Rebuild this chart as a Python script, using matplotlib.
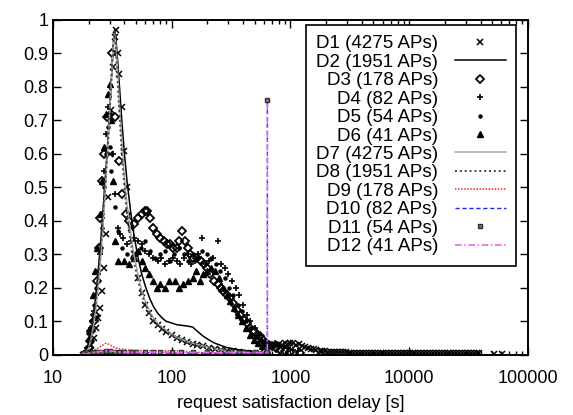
import matplotlib
matplotlib.use('Agg')
import matplotlib.pyplot as plt

plt.rcParams['font.family'] = ['Liberation Sans', 'DejaVu Sans']

# main peak curves (D1, D2, D7, D8)
x_main = [18, 19, 20, 21, 22, 23, 24, 25, 26, 27, 28, 29, 30, 31, 32, 33, 34, 35, 36, 38,
          40, 42, 45, 48, 52, 56, 60, 65, 70, 76, 83, 90, 100, 110, 122, 135, 150, 165,
          185, 205, 230, 260, 290, 330, 370, 420, 480, 550, 640]
d1 = [0.0, 0.0, 0.01, 0.03, 0.05, 0.08, 0.11, 0.14, 0.19, 0.26, 0.36, 0.47, 0.6, 0.73, 0.86,
      0.95, 0.97, 0.9, 0.84, 0.74, 0.61, 0.5, 0.38, 0.3, 0.23, 0.185, 0.15, 0.125, 0.1, 0.088,
      0.078, 0.068, 0.058, 0.05, 0.043, 0.038, 0.033, 0.029, 0.025, 0.021, 0.018, 0.015,
      0.012, 0.01, 0.008, 0.006, 0.005, 0.004, 0.003]
d2 = [0.0, 0.01, 0.03, 0.07, 0.12, 0.18, 0.25, 0.32, 0.4, 0.48, 0.56, 0.64, 0.73, 0.82, 0.91,
      0.97, 0.94, 0.88, 0.82, 0.7, 0.6, 0.52, 0.43, 0.36, 0.29, 0.24, 0.205, 0.17, 0.145,
      0.125, 0.11, 0.1, 0.095, 0.09, 0.088, 0.086, 0.083, 0.07, 0.055, 0.045, 0.035, 0.028,
      0.022, 0.018, 0.015, 0.013, 0.01, 0.006, 0.003]
d7 = [0.0, 0.01, 0.02, 0.05, 0.09, 0.14, 0.2, 0.27, 0.35, 0.44, 0.53, 0.62, 0.72, 0.82, 0.91,
      0.96, 0.92, 0.85, 0.77, 0.64, 0.53, 0.45, 0.37, 0.3, 0.24, 0.19, 0.16, 0.13, 0.11,
      0.095, 0.082, 0.072, 0.062, 0.053, 0.046, 0.04, 0.035, 0.03, 0.026, 0.022, 0.018,
      0.015, 0.012, 0.01, 0.008, 0.006, 0.004, 0.003, 0.002]
d8 = [0.0, 0.01, 0.02, 0.06, 0.11, 0.16, 0.23, 0.3, 0.38, 0.47, 0.55, 0.62, 0.72, 0.82, 0.92,
      0.97, 0.9, 0.82, 0.74, 0.6, 0.5, 0.42, 0.34, 0.28, 0.22, 0.18, 0.15, 0.125, 0.105, 0.09,
      0.08, 0.07, 0.06, 0.05, 0.043, 0.038, 0.033, 0.029, 0.025, 0.021, 0.018, 0.015, 0.012,
      0.01, 0.008, 0.006, 0.004, 0.003, 0.002]

# D3 diamonds
x_d3 = [20, 20.5, 21, 22, 22.6, 23.5, 24.5, 25, 26, 27, 28.4, 31.4, 33.2, 36, 38, 41, 44, 48,
        52, 56, 60, 62, 66, 70, 75, 80, 86, 91, 96, 103, 110, 116, 122, 130, 136, 143, 152,
        162, 175, 188, 198, 212, 228, 245, 258, 270, 290, 310, 330, 355, 380, 405, 430, 460,
        490, 520, 555, 590, 620, 660, 700, 760, 820, 900, 1000, 1200]
d3 = [0.02, 0.04, 0.07, 0.1, 0.12, 0.22, 0.32, 0.41, 0.52, 0.6, 0.71, 0.9, 0.71, 0.58, 0.48,
      0.42, 0.4, 0.39, 0.41, 0.42, 0.43, 0.43, 0.41, 0.38, 0.36, 0.35, 0.34, 0.33, 0.33, 0.32,
      0.32, 0.34, 0.37, 0.34, 0.32, 0.3, 0.29, 0.29, 0.28, 0.27, 0.26, 0.24, 0.22, 0.21, 0.2,
      0.19, 0.18, 0.17, 0.155, 0.135, 0.12, 0.105, 0.095, 0.08, 0.07, 0.06, 0.055, 0.045,
      0.035, 0.03, 0.025, 0.02, 0.015, 0.01, 0.008, 0.005]

# D4 plus
x_d4 = [19, 20, 21, 22, 23, 24, 25, 26, 27, 28, 29, 30, 31, 32, 33, 35, 37, 39, 42, 45, 48,
        52, 56, 60, 65, 70, 76, 82, 88, 95, 102, 110, 118, 127, 136, 146, 157, 168, 180,
        193, 207, 222, 245, 260, 280, 300, 320, 345, 370, 400, 430, 460, 500, 540, 580, 620,
        680, 740, 800, 880, 960, 1050, 1150]
d4 = [0.01, 0.04, 0.08, 0.13, 0.18, 0.24, 0.3, 0.42, 0.55, 0.66, 0.74, 0.8, 0.72, 0.6, 0.48,
      0.38, 0.36, 0.35, 0.33, 0.34, 0.35, 0.34, 0.33, 0.31, 0.3, 0.29, 0.28, 0.29, 0.27, 0.28,
      0.29, 0.28, 0.27, 0.29, 0.3, 0.27, 0.28, 0.3, 0.35, 0.27, 0.28, 0.29, 0.34, 0.27, 0.26,
      0.24, 0.22, 0.2, 0.18, 0.15, 0.12, 0.1, 0.08, 0.06, 0.045, 0.035, 0.03, 0.035, 0.03,
      0.025, 0.02, 0.015, 0.012]

# D5 dots
x_d5 = [19, 19.8, 21, 22, 23, 24, 25, 26, 27, 28, 29, 30, 31, 33, 35, 38, 42, 46, 50, 55, 60,
        66, 72, 80, 88, 96, 105, 115, 126, 138, 150, 165, 180, 198, 215, 235, 255, 280, 305,
        330, 360, 390, 420, 460, 500, 550, 600, 660, 720]
d5 = [0.02, 0.065, 0.1, 0.15, 0.2, 0.25, 0.31, 0.38, 0.5, 0.6, 0.68, 0.62, 0.55, 0.44, 0.37,
      0.32, 0.3, 0.29, 0.3, 0.32, 0.34, 0.31, 0.29, 0.3, 0.31, 0.28, 0.3, 0.32, 0.3, 0.28, 0.3,
      0.29, 0.31, 0.3, 0.29, 0.27, 0.25, 0.23, 0.2, 0.18, 0.15, 0.13, 0.1, 0.08, 0.06, 0.045,
      0.035, 0.03, 0.025]

# D6 triangles
x_d6 = [19, 20, 20.5, 21.7, 22.5, 23.5, 25, 26, 27, 28, 29, 30, 31, 32, 33, 35.5, 40, 44, 48,
        52, 56, 60, 65, 70, 75, 80, 87, 95, 106, 115, 125, 137, 150, 160, 173, 185, 200, 215,
        230, 250, 270, 290, 310, 335, 360, 390, 420, 455, 490, 530, 580, 640]
d6 = [0.01, 0.05, 0.08, 0.18, 0.25, 0.32, 0.42, 0.52, 0.62, 0.72, 0.78, 0.81, 0.7, 0.52, 0.34,
      0.28, 0.28, 0.27, 0.29, 0.31, 0.28, 0.26, 0.24, 0.22, 0.2, 0.21, 0.2, 0.22, 0.22, 0.2,
      0.21, 0.22, 0.23, 0.25, 0.22, 0.24, 0.25, 0.26, 0.25, 0.23, 0.2, 0.18, 0.16, 0.14, 0.12,
      0.1, 0.08, 0.06, 0.045, 0.035, 0.025, 0.015]

# long tail (D1 markers beyond 640 s)
x_tail = [680, 720, 760, 800, 850, 900, 950, 1000, 1060, 1120, 1180, 1250, 1320, 1400, 1480,
          1570, 1660, 1760, 1860, 1970, 2080, 2200, 2330, 2470, 2610, 2760, 2920, 3090, 3270,
          3460, 3660, 3870, 4100, 4340, 4590, 4860, 5140, 5440, 5760, 6090, 6450, 6820, 7220,
          7640, 8080, 8550, 9050, 9580, 10100, 10700, 11300, 12000, 12700, 13400, 14200,
          15000, 15900, 16800, 17800, 18800, 19900, 21100, 22300, 23600, 25000, 26400, 27900,
          29600, 31300, 33100, 35000, 37100, 39200, 52000, 61000]
tail = [0.025, 0.03, 0.028, 0.032, 0.03, 0.035, 0.033, 0.036, 0.034, 0.03, 0.032, 0.027,
        0.024, 0.02, 0.018, 0.016, 0.013, 0.012, 0.011, 0.01, 0.009, 0.008, 0.008, 0.007,
        0.007, 0.007, 0.007, 0.006, 0.006, 0.006, 0.006, 0.006, 0.006, 0.006, 0.006, 0.006,
        0.006, 0.006, 0.006, 0.006, 0.006, 0.006, 0.006, 0.006, 0.006, 0.006, 0.006, 0.006,
        0.006, 0.006, 0.006, 0.006, 0.006, 0.006, 0.006, 0.006, 0.006, 0.006, 0.006, 0.006,
        0.006, 0.006, 0.006, 0.006, 0.006, 0.006, 0.006, 0.006, 0.006, 0.006, 0.006, 0.006,
        0.006, 0.003, 0.003]

# near-zero series (D9 - D12), spike at 640 s
x_low = [18, 20, 22, 24, 26, 28, 30, 33, 36, 40, 45, 50, 60, 70, 80, 100, 120, 150, 200, 300,
         400, 500, 640]
d9 = [0.0, 0.005, 0.012, 0.02, 0.028, 0.035, 0.03, 0.022, 0.018, 0.016, 0.014, 0.013, 0.013,
      0.012, 0.012, 0.012, 0.011, 0.008, 0.006, 0.005, 0.004, 0.003, 0.003]
d10 = [0.0, 0.004, 0.006, 0.008, 0.01, 0.012, 0.011, 0.009, 0.008, 0.007, 0.007, 0.006,
       0.006, 0.006, 0.006, 0.005, 0.005, 0.005, 0.005, 0.005, 0.005, 0.005, 0.005]
d11 = [0.004, 0.006, 0.007, 0.008, 0.009, 0.011, 0.01, 0.009, 0.008, 0.008, 0.008, 0.008,
       0.008, 0.008, 0.008, 0.008, 0.008, 0.008, 0.008, 0.008, 0.008, 0.008, 0.008]
d12 = [0.0, 0.005, 0.007, 0.009, 0.011, 0.013, 0.012, 0.01, 0.009, 0.008, 0.008, 0.008,
       0.008, 0.008, 0.008, 0.007, 0.007, 0.007, 0.007, 0.007, 0.007, 0.007, 0.007]
spike_x = 640
spike_y = 0.76

labels = ['D1 (4275 APs)', 'D2 (1951 APs)', 'D3 (178 APs)', 'D4 (82 APs)', 'D5 (54 APs)',
          'D6 (41 APs)', 'D7 (4275 APs)', 'D8 (1951 APs)', 'D9 (178 APs)', 'D10 (82 APs)',
          'D11 (54 APs)', 'D12 (41 APs)']

fig = plt.figure(figsize=(5.73, 4.15), dpi=100)
ax = fig.add_axes([0.0925, 0.145, 0.8285, 0.807])

ax.plot(x_main + x_tail, d1 + tail, ls='none', marker='x', ms=4, mew=1.1, color='black',
        label=labels[0])
ax.plot(x_main, d2, '-', color='black', lw=1.1, label=labels[1])
ax.plot(x_d3, d3, ls='none', marker='D', ms=4.5, mfc='none', mec='black', mew=1.3,
        label=labels[2])
ax.plot(x_d4, d4, ls='none', marker='+', ms=4, mew=1.2, color='black', label=labels[3])
ax.plot(x_d5, d5, ls='none', marker='o', ms=2.2, color='black', label=labels[4])
ax.plot(x_d6, d6, ls='none', marker='^', ms=4, color='black', label=labels[5])
ax.plot(x_main, d7, '-', color='#aaaaaa', lw=1.1, label=labels[6])
ax.plot(x_main, d8, ls=(0, (1, 1.5)), color='#444444', lw=1.4, label=labels[7])
ax.plot(x_low, d9, ls=(0, (1, 1)), color='#ff2020', lw=1.1, label=labels[8])
ax.plot(x_low + [spike_x], d10 + [spike_y], ls=(0, (3, 2)), color='#2020ff', lw=1.0,
        label=labels[9])
ax.plot(x_low + [spike_x], d11 + [spike_y], ls='none', marker='s', ms=3.5, mfc='#777777',
        mec='#303030', mew=1, label=labels[10])
ax.plot(x_low + [spike_x], d12 + [spike_y], ls=(0, (4, 1.5, 1, 1.5)), color='#ee66ee',
        lw=1.2, label=labels[11])

ax.set_xscale('log')
ax.set_xlim(10, 100000)
ax.set_ylim(0, 1)
ax.set_xticks([10, 100, 1000, 10000, 100000])
ax.set_xticklabels(['10', '100', '1000', '10000', '100000'])
yt = [0, 0.1, 0.2, 0.3, 0.4, 0.5, 0.6, 0.7, 0.8, 0.9, 1]
ax.set_yticks(yt)
ax.set_yticklabels(['0', '0.1', '0.2', '0.3', '0.4', '0.5', '0.6', '0.7', '0.8', '0.9', '1'])
ax.tick_params(which='both', direction='in', top=True, right=True, labelsize=13)
ax.tick_params(which='major', length=6, width=1)
ax.tick_params(which='minor', length=3, width=1)
ax.tick_params(axis='x', pad=11)
for s in ax.spines.values():
    s.set_linewidth(1.4)

ax.set_xlabel('request satisfaction delay [s]', fontsize=13, labelpad=6)

leg = ax.legend(loc='upper right', bbox_to_anchor=(0.975, 0.985), borderaxespad=0,
                markerfirst=False, fontsize=13.5, labelspacing=0.07, handlelength=2.7,
                handletextpad=0.9, borderpad=0.55, fancybox=False, framealpha=1,
                edgecolor='black', numpoints=1)
leg.get_frame().set_linewidth(1.2)

plt.savefig('out.png', dpi=100)
